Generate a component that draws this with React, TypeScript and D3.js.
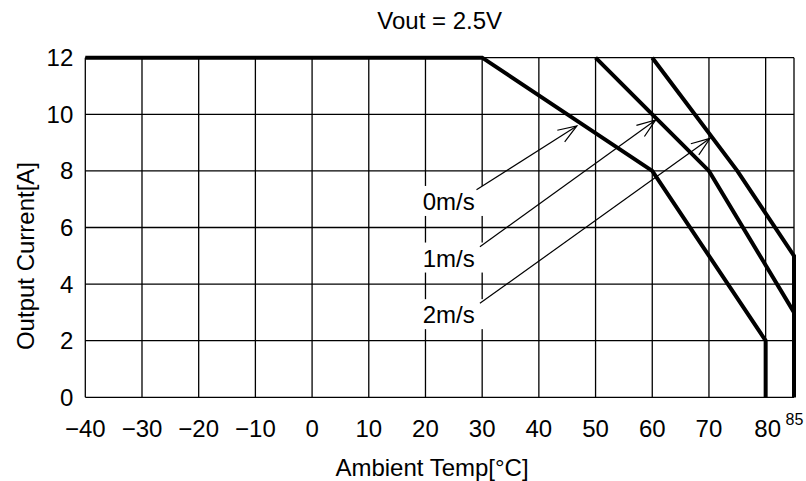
import React, { useEffect, useRef } from 'react';
import * as d3 from 'd3';

// derating curves: [ambient temp, output current]
const curve0 = [[-40, 12], [30, 12], [60, 8], [80, 2], [80, 0]];
const curve1 = [[50, 12], [60, 10], [70, 8], [85, 3], [85, 0]];
const curve2 = [[60, 12], [75, 8], [85, 5], [85, 0]];
const curves = [curve0, curve1, curve2];

// annotation labels and arrows (data coords)
const airLabels = ['0m/s', '1m/s', '2m/s'];
const labelPos = [[19.5, 6.62], [19.5, 4.62], [19.5, 2.62]];
const arrowFrom = [[29.0, 7.33], [29.6, 5.32], [29.6, 3.32]];
const arrowTo = [[46.7, 9.59], [60.6, 9.8], [70.2, 9.15]];

const xTicks = [-40, -30, -20, -10, 0, 10, 20, 30, 40, 50, 60, 70, 80];
const xGrid = [-40, -30, -20, -10, 0, 10, 20, 30, 40, 50, 60, 70, 80, 85];
const yTicks = [0, 2, 4, 6, 8, 10, 12];

const FONT = '"Liberation Sans", Arial, Helvetica, sans-serif';

function DeratingChart() {
  const ref = useRef(null);

  useEffect(() => {
    const svg = d3.select(ref.current);
    svg.selectAll('*').remove();

    const W = 806, H = 481;
    const margin = { top: 57.7, right: 12, bottom: 83.7, left: 85.3 };

    const x = d3.scaleLinear().domain([-40, 85]).range([margin.left, W - margin.right]);
    const y = d3.scaleLinear().domain([0, 12]).range([H - margin.bottom, margin.top]);

    svg.append('rect').attr('width', W).attr('height', H).attr('fill', '#fff');

    // grid
    const grid = svg.append('g').attr('stroke', '#000').attr('stroke-width', 1.3);
    grid.selectAll('line.v').data(xGrid).join('line')
      .attr('x1', d => x(d)).attr('x2', d => x(d))
      .attr('y1', y(0)).attr('y2', y(12));
    grid.selectAll('line.h').data(yTicks).join('line')
      .attr('x1', x(-40)).attr('x2', x(85))
      .attr('y1', d => y(d)).attr('y2', d => y(d));

    // label backgrounds (they cut the grid)
    svg.append('g').selectAll('rect').data(labelPos).join('rect')
      .attr('x', d => x(d[0]) - 3)
      .attr('y', d => y(d[1]) - 24)
      .attr('width', 66)
      .attr('height', 30)
      .attr('fill', '#fff');

    // curves
    const line = d3.line().x(d => x(d[0])).y(d => y(d[1]));
    svg.append('g').selectAll('path').data(curves).join('path')
      .attr('d', d => line(d))
      .attr('fill', 'none')
      .attr('stroke', '#000')
      .attr('stroke-width', 4)
      .attr('stroke-linejoin', 'miter');

    // arrows
    const ag = svg.append('g').attr('stroke', '#000').attr('stroke-width', 1.2).attr('fill', 'none');
    arrowFrom.forEach((s, i) => {
      const t = arrowTo[i];
      const x1 = x(s[0]), y1 = y(s[1]), x2 = x(t[0]), y2 = y(t[1]);
      ag.append('line').attr('x1', x1).attr('y1', y1).attr('x2', x2).attr('y2', y2);
      const back = Math.atan2(y1 - y2, x1 - x2);
      const len = 20, ang = (20 * Math.PI) / 180;
      const p = d3.path();
      p.moveTo(x2 + len * Math.cos(back + ang), y2 + len * Math.sin(back + ang));
      p.lineTo(x2, y2);
      p.lineTo(x2 + len * Math.cos(back - ang), y2 + len * Math.sin(back - ang));
      ag.append('path').attr('d', p.toString());
    });

    // labels
    svg.append('g').selectAll('text').data(airLabels).join('text')
      .attr('x', (d, i) => x(labelPos[i][0]))
      .attr('y', (d, i) => y(labelPos[i][1]))
      .attr('font-family', FONT).attr('font-size', 24)
      .attr('fill', '#000')
      .text(d => d);

    // x tick labels
    svg.append('g').selectAll('text').data(xTicks).join('text')
      .attr('x', d => x(d) + (d === 80 ? 2 : 0))
      .attr('y', y(0) + 39.5)
      .attr('text-anchor', 'middle')
      .attr('font-family', FONT).attr('font-size', 24)
      .text(d => d3.format('d')(d));
    svg.append('text')
      .attr('x', x(85) + 0.5).attr('y', y(0) + 27.5)
      .attr('text-anchor', 'middle')
      .attr('font-family', FONT).attr('font-size', 16)
      .text('85');

    // y tick labels
    svg.append('g').selectAll('text').data(yTicks).join('text')
      .attr('x', x(-40) - 12)
      .attr('y', d => y(d) + 8.5)
      .attr('text-anchor', 'end')
      .attr('font-family', FONT).attr('font-size', 24)
      .text(d => d);

    // titles
    svg.append('text')
      .attr('x', (x(-40) + x(85)) / 2).attr('y', 29.3)
      .attr('text-anchor', 'middle')
      .attr('font-family', FONT).attr('font-size', 24)
      .text('Vout = 2.5V');
    svg.append('text')
      .attr('x', 432).attr('y', 476)
      .attr('text-anchor', 'middle')
      .attr('font-family', FONT).attr('font-size', 24)
      .text('Ambient Temp[°C]');
    svg.append('text')
      .attr('transform', 'translate(34,256) rotate(-90)')
      .attr('text-anchor', 'middle')
      .attr('font-family', FONT).attr('font-size', 24)
      .text('Output Current[A]');
  }, []);

  return (
    <svg ref={ref} width={806} height={481}
      style={{ position: 'absolute', left: 0, top: 0, display: 'block' }} />
  );
}

export default function App() {
  return <DeratingChart />;
}
